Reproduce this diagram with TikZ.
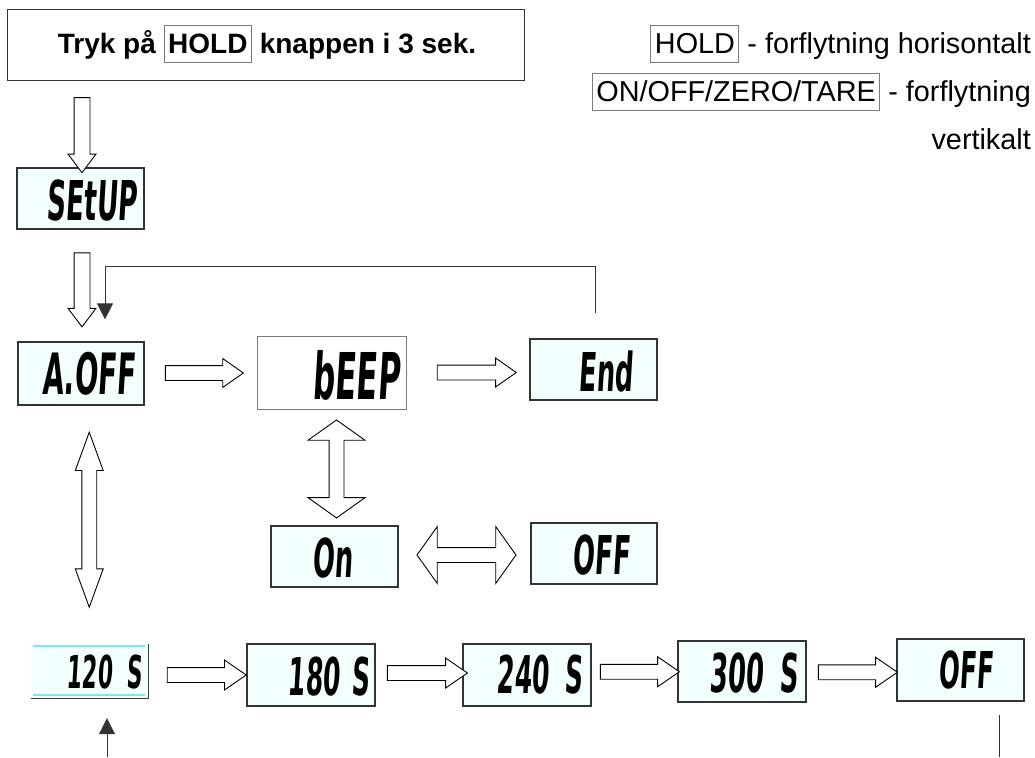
\documentclass[tikz,border=0pt]{standalone}
\usepackage{fontspec}
\setmainfont{Liberation Sans}
\newfontfamily\lcdfont[FakeStretch=0.48,FakeSlant=0.06]{DejaVu Sans}
\usetikzlibrary{shapes.arrows,arrows.meta,calc}
\definecolor{lcdfill}{HTML}{F3FEFE}
\definecolor{lcdcyan}{HTML}{86E4EE}
\definecolor{keygray}{HTML}{7A7A7A}
\newcommand\btnbox[1]{{\fboxsep=2pt\fboxrule=1pt\fcolorbox{keygray}{white}{\hspace{1.5pt}\rule[-0.212em]{0pt}{1.117em}#1\hspace{1.5pt}}}}
\newcommand\lcdsize[1]{\lcdfont\bfseries\fontsize{#1}{#1}\selectfont}
\tikzset{
  lcdbox/.style={draw=black!80, line width=1.2pt, fill=lcdfill, inner sep=0pt, minimum width=127pt, minimum height=61pt},
  lcdlabel/.style={inner sep=0pt, anchor=east, text depth=0pt},
  legend/.style={anchor=base east, inner sep=0pt, font=\fontsize{28.8}{34}\selectfont},
  harrow/.style={single arrow, draw=black, fill=white, line width=0.9pt, inner sep=7pt,
    single arrow head extend=7pt, single arrow tip angle=70, minimum width=0pt, minimum height=79pt},
  rowarrow/.style={harrow, single arrow head extend=7.5pt, single arrow tip angle=69},
  downarrow/.style={harrow, rotate=-90, inner sep=7.5pt, single arrow head extend=6pt, single arrow tip angle=74},
  bigdouble/.style={double arrow, draw=black, fill=white, line width=0.9pt, inner sep=7pt,
    double arrow head extend=21pt, double arrow tip angle=109, minimum width=0pt},
  longdouble/.style={double arrow, draw=black, fill=white, line width=0.9pt, inner sep=7pt,
    double arrow head extend=6.5pt, double arrow tip angle=40, minimum width=0pt},
  thinline/.style={draw=black!80, line width=1pt},
  loophead/.style={-{Triangle[width=16pt,length=16pt]}},
}
\begin{document}
\begin{tikzpicture}[x=1pt,y=-1pt]
\fill[white] (0,0) rectangle (1035,757);
\useasboundingbox (0,0) rectangle (1035,757);

% top instruction box
\node[draw=black!80, line width=1pt, minimum width=517pt, minimum height=71pt, inner sep=0pt] (top) at (265.5,45.5) {};
\node[anchor=base, inner sep=0pt, font=\bfseries\fontsize{28}{33}\selectfont] (toptext) at (267,53.7)
  {Tryk på \btnbox{HOLD} knappen i 3 sek.};

% legend
\node[legend] (leg1) at (1031,53.7) {\btnbox{HOLD} - forflytning horisontalt};
\node[legend] (leg2) at (1031,101.7) {\btnbox{ON/OFF/ZERO/TARE} - forflytning};
\node[legend] (leg3) at (1031,149.7) {vertikalt};

% display boxes
\node[lcdbox] (setup) at (80.5,198.5) {};
\node[lcdlabel, font=\lcdsize{54.9}, text height=40pt] (setupT) at (137,200) {SEtUP};

\node[lcdbox, minimum width=126pt, minimum height=63pt] (aoff) at (81,373.5) {};
\node[lcdlabel, font=\lcdsize{57}, text height=42pt] (aoffT) at (135,373) {A.OFF};

\node[draw=keygray, line width=1pt, fill=white, minimum width=149pt, minimum height=73pt, inner sep=0pt] (beep) at (331.5,372.5) {};
\node[lcdlabel, font=\lcdsize{64.5}, text height=47pt] (beepT) at (400,375.5) {bEEP};

\node[lcdbox] (endb) at (593.5,369.5) {};
\node[lcdlabel, font=\lcdsize{53.5}, text height=39pt] (endT) at (633,371.5) {End};

\node[lcdbox] (on) at (334.5,556.5) {};
\node[lcdlabel, font=\lcdsize{53.5}, text height=39pt] (onT) at (353,557.5) {On};

\node[lcdbox, minimum width=126pt] (offm) at (594,553.5) {};
\node[lcdlabel, font=\lcdsize{53.5}, text height=39pt] (offmT) at (630,554.5) {OFF};

% 120 S display (cyan frame lines)
\node[fill=lcdfill, minimum width=117pt, minimum height=54pt, inner sep=0pt] (s120) at (89.5,671) {};
\draw[lcdcyan, line width=1.6pt] ($(s120.north west)+(2,2)$) -- ($(s120.north east)+(-3,2)$);
\draw[lcdcyan, line width=1.6pt] ($(s120.south west)+(2,-3)$) -- ($(s120.south east)+(-3,-3)$);
\draw[draw=black!75, line width=1.2pt] (s120.south west) -- (s120.south east) -- (s120.north east);
\node[lcdlabel, font=\lcdsize{45.3}, text height=33pt] (s120T) at (142,671.5) {120\hspace{14pt}S};

\node[lcdbox, minimum width=128pt, minimum height=62pt] (s180) at (311,675) {};
\node[lcdlabel, font=\lcdsize{52}, text height=38pt] (s180T) at (370,676) {180\hspace{12pt}S};

\node[lcdbox, minimum width=128pt, minimum height=62pt] (s240) at (527,675) {};
\node[lcdlabel, font=\lcdsize{52}, text height=38pt] (s240T) at (583,674) {240\hspace{16pt}S};

\node[lcdbox, minimum width=128pt] (s300) at (742,671.5) {};
\node[lcdlabel, font=\lcdsize{53.5}, text height=39pt] (s300T) at (798,672.5) {300\hspace{16pt}S};

\node[lcdbox, minimum height=62pt] (offb) at (960.5,670) {};
\node[lcdlabel, font=\lcdsize{50.8}, text height=37pt] (offbT) at (993,669.5) {OFF};

% hollow arrows
\node[downarrow, minimum height=75pt] (d1) at ($(setup.north)+(1.5,-37.5)$) {};
\node[downarrow, minimum height=74pt] (d2) at ($(setup.south)+(1.5,55)$) {};
\node[harrow, minimum height=78pt] (a1) at ($(aoff.east)!0.5!(beep.west)+(-1.5,0)$) {};
\node[harrow, minimum height=79pt] (a2) at ($(beep.east)!0.5!(endb.west)+(3.5,1.5)$) {};
\node[bigdouble, rotate=90, minimum height=98pt] (v1) at ($(beep.south)!0.5!(on.north)+(3.5,1.5)$) {};
\node[bigdouble, minimum height=99pt] (h1) at ($(on.east)!0.5!(offm.west)+(2,0)$) {};
\node[longdouble, rotate=90, minimum height=175pt] (v2) at ($(aoff.south)!0.5!(s120.north)+(4,-5)$) {};
\node[rowarrow] (b1) at ($(s120.east)!0.5!(s180.west)+(4,2)$) {};
\node[rowarrow, minimum height=80pt] (b2) at ($(s180.east)!0.5!(s240.west)+(3,-2)$) {};
\node[rowarrow] (b3) at ($(s240.east)!0.5!(s300.west)+(0,-1.5)$) {};
\node[rowarrow] (b4) at ($(s300.east)!0.5!(offb.west)+(1,1.5)$) {};

% loop connectors
\coordinate (retA) at ($(endb.north)+(1.5,-25)$);
\coordinate (retB) at ($(aoff.north)+(24,-22)$);
\draw[thinline, loophead] (retA) -- ++(0,-47) -| (retB);

\coordinate (blS) at (107,757);
\coordinate (blE) at ($(s120.south)+(17.5,20)$);
\draw[thinline, loophead] (blS) -- (blE);

\coordinate (brS) at (999,757);
\coordinate (brE) at ($(offb.south)+(38.5,13)$);
\draw[thinline] (brS) -- (brE);
\end{tikzpicture}
\end{document}
